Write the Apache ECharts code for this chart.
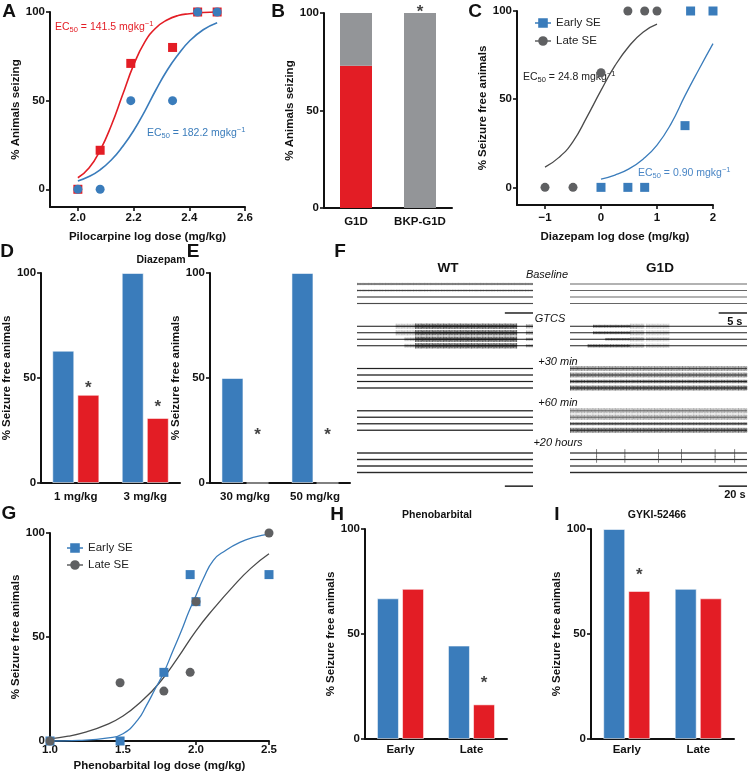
<!DOCTYPE html>
<html><head><meta charset="utf-8">
<script src="https://cdn.jsdelivr.net/npm/echarts@6/dist/echarts.min.js"></script>
<style>html,body{margin:0;padding:0;background:#fff}#c{width:750px;height:774px}</style>
</head><body><div id="c"></div>
<script>
// ---------------- DATA ----------------
// Panel A – pilocarpine dose response
const aDose = [2.0, 2.08, 2.19, 2.34, 2.43, 2.5];
const aG1D = [0, 22, 71, 80, 100, 100];
const aWT = [0, 0, 50, 50, 100, 100];
const aFitDose = [2.00, 2.04, 2.08, 2.12, 2.16, 2.20, 2.24, 2.28, 2.32, 2.36, 2.40, 2.45, 2.50];
const aFitG1D = [6.5, 12, 22, 36, 53, 70, 83, 91, 95.5, 98, 99, 99.7, 100];
const aFitWT = [4.7, 7.2, 11, 16.5, 24, 33, 44, 56, 67, 76, 83.5, 90, 94];
const aXTicks = [2.0, 2.2, 2.4, 2.6];
const pctTicks = [0, 50, 100];
// Panel B
const bCats = ['G1D', 'BKP-G1D'];
const bSeizing = [73, 0];
const bNotSeizing = [27, 100];
const bStars = ['-', 103];
// Panel C – diazepam dose response
const cEarlyDose = [0, 0.48, 0.78, 1.5, 1.6, 2.0];
const cEarly = [0, 0, 0, 35, 100, 100];
const cLateDose = [-1, -0.5, 0, 0.48, 0.78, 1.0];
const cLate = [0, 0, 65, 100, 100, 100];
const cFitLateDose = [-1, -0.75, -0.5, -0.25, 0, 0.25, 0.5, 0.75, 1.0];
const cFitLate = [11.5, 17, 26, 40, 55, 69, 80, 88, 92.5];
const cFitEarlyDose = [0, 0.25, 0.5, 0.75, 1.0, 1.25, 1.5, 1.75, 2.0];
const cFitEarly = [4.7, 7, 10.5, 16, 24, 36, 52, 67, 81.5];
const cXTicks = [-1, 0, 1, 2];
// Panel D – diazepam
const dCats = ['1 mg/kg', '3 mg/kg'];
const dBlue = [63, 100];
const dRed = [42, 31];
const dStars = [47.5, 38.5];
// Panel E
const eCats = ['30 mg/kg', '50 mg/kg'];
const eBlue = [50, 100];
const eRed = [0, 0];
const eStars = [25, 25];
// Panel F – EEG traces, [epoch, channel, start %, end %, amplitude, intensity]
const fEpochs = ['Baseline', 'GTCS', '+30 min', '+60 min', '+20 hours'];
const fWT = [
  [0,0,0,100,0.4,0.22],[0,1,0,100,0.4,0.22],[0,2,0,100,0.3,0.2],[0,3,0,100,0.3,0.2],
  [0,0,0,100,0,0.45],[0,1,0,100,0,0.45],[0,2,0,100,0,0.45],[0,3,0,100,0,0.45],
  [1,0,0,100,0,0.85],[1,1,0,100,0,0.85],[1,2,0,100,0,0.85],[1,3,0,100,0,0.85],
  [1,0,22,33,0.8,0.25],[1,0,33,91,0.85,0.75],[1,0,96,100,0.7,0.3],
  [1,1,22,33,0.8,0.25],[1,1,33,91,0.85,0.75],[1,1,96,100,0.7,0.3],
  [1,2,27,33,0.6,0.25],[1,2,33,91,0.85,0.75],[1,2,96,100,0.5,0.3],
  [1,3,27,33,0.6,0.25],[1,3,33,91,0.85,0.75],[1,3,96,100,0.5,0.3],
  [2,0,0,100,0.2,0.75],[2,1,0,100,0.2,0.75],[2,2,0,100,0.2,0.75],[2,3,0,100,0.2,0.75],
  [3,0,0,100,0.2,0.75],[3,1,0,100,0.2,0.75],[3,2,0,100,0.2,0.75],[3,3,0,100,0.2,0.75],
  [4,0,0,100,0.28,0.7],[4,1,0,100,0.28,0.7],[4,2,0,100,0.28,0.7],[4,3,0,100,0.28,0.7]
];
const fG1D = [
  [0,0,0,100,0,0.5],[0,1,0,100,0,0.5],[0,2,0,100,0,0.5],[0,3,0,100,0,0.5],
  [1,0,0,100,0,0.8],[1,1,0,100,0,0.8],[1,2,0,100,0,0.8],[1,3,0,100,0,0.8],
  [1,0,13,34,0.45,0.55],[1,0,34,42,0.8,0.25],[1,0,43,56,0.8,0.18],
  [1,1,13,34,0.45,0.55],[1,1,34,42,0.8,0.25],[1,1,43,56,0.8,0.18],
  [1,2,20,34,0.4,0.45],[1,2,34,42,0.7,0.25],[1,2,43,56,0.7,0.18],
  [1,3,10,34,0.5,0.6],[1,3,34,42,0.7,0.25],[1,3,43,56,0.7,0.18],
  [2,0,0,100,0.75,0.5],[2,1,0,100,0.75,0.55],[2,2,0,100,0.55,0.7],[2,3,0,100,0.75,0.75],
  [3,0,0,100,0.85,0.32],[3,1,0,100,0.85,0.36],[3,2,0,100,0.45,0.65],[3,3,0,100,0.75,0.7],
  [4,0,0,100,0.2,0.65],[4,1,0,100,0.2,0.65],[4,2,0,100,0.2,0.65],[4,3,0,100,0.28,0.7]
];
// spikes at +20 h in G1D: [epoch, channel, position %, amplitude]
const fG1DSpikes = [
  [4,0,15,1.2],[4,0,31,1.2],[4,0,50,1.2],[4,0,63,1.2],[4,0,82,1.2],[4,0,93,1.2],
  [4,1,15,1.0],[4,1,31,1.0],[4,1,50,1.0],[4,1,63,1.0],[4,1,82,1.0],[4,1,93,1.0]
];
// scale bars: [row, start %, end %, label]
const fWTScale = [[4.46, 84, 100, ''], [31.1, 84, 100, '']];
const fG1DScale = [[4.46, 84, 100, '5 s'], [31.1, 84, 100, '20 s']];
// Panel G – phenobarbital dose response
const gDose = [1.0, 1.48, 1.78, 1.96, 2.0, 2.5];
const gEarly = [0, 0, 33, 80, 67, 80];
const gLate = [0, 28, 24, 33, 67, 100];
const gFitEarlyDose = [1.0, 1.2, 1.4, 1.5, 1.6, 1.66, 1.72, 1.78, 1.84, 1.9, 1.95, 2.0, 2.05, 2.12, 2.2, 2.3, 2.4, 2.5];
const gFitEarly = [0, 0.3, 1.5, 3.5, 10, 17, 25, 33, 43, 53, 62, 70, 78, 87, 91.5, 95.5, 98, 99.5];
const gFitLateDose = [1.0, 1.125, 1.25, 1.375, 1.5, 1.625, 1.75, 1.875, 2.0, 2.125, 2.25, 2.375, 2.5];
const gFitLate = [1, 2.3, 4.4, 7.5, 12, 19, 28, 40, 53, 64, 74, 83, 90];
// Panel H – phenobarbital, Panel I – GYKI-52466
const hiCats = ['Early', 'Late'];
const hBlue = [67, 44.5];
const hRed = [71.5, 16.5];
const hStars = ['-', 29];
const iBlue = [100, 71.5];
const iRed = [70.5, 67];
const iStars = [80.5, '-'];

// ---------------- STYLE ----------------
const FONT = '"Liberation Sans", Arial, Helvetica, sans-serif';
const BLUE = '#3a7cbb', RED = '#e31d25', GRAYBAR = '#939598', DARK = '#5f6062', CURVEGRAY = '#4a4a4a', INK = '#111';
const ROWS_PER_EPOCH = 6.5;
const HATCH = [1, 0.55, 0.85, 0.35, 0.95, 0.65, 0.8, 0.45];
const zip = (xs, ys) => xs.map((x, i) => [x, ys[i]]);
const fmt1 = v => v.toFixed(1);
const fmtMinus = v => (v < 0 ? '\u2212' + Math.abs(v) : String(v));

function vAxis(gi, min, max, ticks, fmt, name, gap, margin) {
  return {
    type: 'value', gridIndex: gi, min: min, max: max,
    name: name || '', nameLocation: 'middle', nameGap: gap || 20,
    nameTextStyle: {color: INK, fontSize: 11.5, fontWeight: 'bold', fontFamily: FONT},
    axisLine: {show: true, onZero: false, lineStyle: {color: INK, width: 2}},
    axisTick: {show: true, length: 4, customValues: ticks, lineStyle: {color: INK, width: 1.6}},
    axisLabel: {show: true, customValues: ticks, formatter: fmt || (v => String(v)), color: INK,
      fontSize: 11.5, fontWeight: 'bold', fontFamily: FONT, margin: margin == null ? 5 : margin},
    splitLine: {show: false}
  };
}
function cAxis(gi, cats, margin) {
  return {
    type: 'category', gridIndex: gi, data: cats,
    axisLine: {show: true, onZero: false, lineStyle: {color: INK, width: 2}},
    axisTick: {show: false},
    axisLabel: {interval: 0, color: INK, fontSize: 11.5, fontWeight: 'bold', fontFamily: FONT, margin: margin},
    splitLine: {show: false}
  };
}
function hidden(gi, min, max, inverse) {
  return {type: 'value', gridIndex: gi, min: min, max: max, inverse: !!inverse, show: false,
    axisLine: {show: false}, axisTick: {show: false}, axisLabel: {show: false}, splitLine: {show: false}};
}
function pairBars(gi, blue, red, stars) {
  const bar = (d, c) => ({
    type: 'bar', xAxisIndex: gi, yAxisIndex: gi, data: d, barWidth: 22, barGap: '14%',
    itemStyle: {color: c, borderColor: 'rgba(255,255,255,0.55)', borderWidth: 1}, silent: true
  });
  return [bar(blue, BLUE), bar(red, RED), starSeries(gi, stars, 12.5)];
}
function starSeries(gi, stars, dx) {
  return {
    type: 'scatter', xAxisIndex: gi, yAxisIndex: gi, data: stars, symbolSize: 1, clip: false,
    itemStyle: {color: 'rgba(0,0,0,0)'}, silent: true,
    label: {show: true, position: 'inside', offset: [dx, 5], formatter: '*', color: INK,
      fontSize: 17, fontWeight: 'bold', fontFamily: FONT}
  };
}
function curve(gi, xs, ys, color, w) {
  return {type: 'line', xAxisIndex: gi, yAxisIndex: gi, data: zip(xs, ys), smooth: true, showSymbol: false,
    symbol: 'none', lineStyle: {color: color, width: w}, silent: true, clip: false, z: 2};
}
function points(gi, name, xs, ys, symbol, color, z) {
  return {type: 'scatter', name: name, xAxisIndex: gi, yAxisIndex: gi, data: zip(xs, ys), symbol: symbol,
    symbolSize: 9, itemStyle: {color: color, opacity: 1}, clip: false, silent: true, z: z || 3};
}
function segRender(src) {
  return function (params, api) {
    const s = src[params.dataIndex];
    const row = s[0] * ROWS_PER_EPOCH + s[1];
    const p0 = api.coord([s[2], row]), p1 = api.coord([s[3], row]);
    const unit = api.size([0, 1])[1];
    const line = {type: 'line', shape: {x1: p0[0], y1: p0[1], x2: p1[0], y2: p1[1]},
      style: {stroke: 'rgba(20,20,20,' + Math.min(1, s[5] + 0.15) + ')', lineWidth: 1}};
    if (s[4] === 0) return line;
    const h = Math.max(s[4] * unit, 1);
    const kids = [{type: 'rect', shape: {x: p0[0], y: p0[1] - h / 2, width: p1[0] - p0[0], height: h},
      style: {fill: 'rgba(25,25,25,' + (s[5] * 0.55) + ')'}}];
    if (h > 2) {
      let k = 0;
      for (let x = p0[0] + 0.5; x < p1[0]; x += 1.4, k++) {
        const hh = h * HATCH[k % HATCH.length] / 2;
        kids.push({type: 'line', shape: {x1: x, y1: p0[1] - hh, x2: x, y2: p0[1] + hh},
          style: {stroke: 'rgba(15,15,15,' + s[5] + ')', lineWidth: 0.6}});
      }
    }
    kids.push(line);
    return {type: 'group', children: kids};
  };
}
function spikeRender(src) {
  return function (params, api) {
    const s = src[params.dataIndex];
    const row = s[0] * ROWS_PER_EPOCH + s[1];
    const p = api.coord([s[2], row]);
    const h = s[3] * api.size([0, 1])[1];
    return {type: 'line', shape: {x1: p[0], y1: p[1] - h / 2, x2: p[0], y2: p[1] + h / 2},
      style: {stroke: 'rgba(60,60,60,0.8)', lineWidth: 0.8}};
  };
}
function scaleRender(src) {
  return function (params, api) {
    const s = src[params.dataIndex];
    const p0 = api.coord([s[1], s[0]]), p1 = api.coord([s[2], s[0]]);
    const kids = [{type: 'line', shape: {x1: p0[0], y1: p0[1], x2: p1[0], y2: p1[1]}, style: {stroke: '#222', lineWidth: 1.5}}];
    if (s[3]) kids.push({type: 'text', style: {text: s[3], x: (p0[0] + p1[0]) / 2 + 2, y: p0[1] + 9, align: 'center',
      verticalAlign: 'middle', fontSize: 11, fontWeight: 'bold', fontFamily: FONT, fill: INK}});
    return {type: 'group', children: kids};
  };
}
function custom(gi, src, render) {
  return {type: 'custom', xAxisIndex: gi, yAxisIndex: gi, data: src.map(s => [s[0], s[1]]),
    renderItem: render(src), silent: true, clip: false};
}

const grids = [
  {left: 50, top: 12, width: 195, height: 195},     // A
  {left: 324, top: 13, width: 128, height: 195},    // B
  {left: 517, top: 11, width: 196, height: 194},    // C
  {left: 35, top: 273, width: 145, height: 210},    // D
  {left: 210, top: 273, width: 140, height: 210},   // E
  {left: 357, top: 277.5, width: 176, height: 214.5}, // F WT
  {left: 570, top: 277.5, width: 177, height: 214.5}, // F G1D
  {left: 50, top: 533, width: 219, height: 208},    // G
  {left: 365, top: 529, width: 142, height: 210},   // H
  {left: 591, top: 529, width: 143, height: 210}    // I
];

const xAxes = [
  vAxis(0, 1.9, 2.6, aXTicks, fmt1, 'Pilocarpine log dose (mg/kg)', 24, 5),
  cAxis(1, bCats, 8),
  vAxis(2, -1.5, 2, cXTicks, fmtMinus, 'Diazepam log dose (mg/kg)', 26, 7),
  cAxis(3, dCats, 8),
  cAxis(4, eCats, 8),
  hidden(5, 0, 100),
  hidden(6, 0, 100),
  vAxis(7, 1.0, 2.5, [1.0, 1.5, 2.0, 2.5], fmt1, 'Phenobarbital log dose (mg/kg)', 19, 3),
  cAxis(8, hiCats, 5),
  cAxis(9, hiCats, 5)
];
const yAxes = [
  vAxis(0, -10, 100, pctTicks, null, '% Animals seizing', 21),
  vAxis(1, 0, 100, pctTicks, null, '% Animals seizing', 15),
  vAxis(2, -10, 100, pctTicks, null, '% Seizure free animals', 18),
  vAxis(3, 0, 100, pctTicks, null, '% Seizure free animals', 21),
  vAxis(4, 0, 100, pctTicks, null, '% Seizure free animals', 22),
  hidden(5, -1, 32, true),
  hidden(6, -1, 32, true),
  vAxis(7, 0, 100, pctTicks, null, '% Seizure free animals', 21),
  vAxis(8, 0, 100, pctTicks, null, '% Seizure free animals', 26),
  vAxis(9, 0, 100, pctTicks, null, '% Seizure free animals', 20)
];

const series = [
  // A
  curve(0, aFitDose, aFitG1D, RED, 1.6),
  curve(0, aFitDose, aFitWT, BLUE, 1.6),
  points(0, 'G1D', aDose, aG1D, 'rect', RED, 3),
  points(0, 'WT', aDose, aWT, 'circle', BLUE, 4),
  // B
  {type: 'bar', xAxisIndex: 1, yAxisIndex: 1, stack: 'b', data: bSeizing, barWidth: 32, itemStyle: {color: RED}, silent: true},
  {type: 'bar', xAxisIndex: 1, yAxisIndex: 1, stack: 'b', data: bNotSeizing, barWidth: 32, itemStyle: {color: GRAYBAR}, silent: true},
  starSeries(1, bStars, 0),
  // C
  curve(2, cFitLateDose, cFitLate, CURVEGRAY, 1.3),
  curve(2, cFitEarlyDose, cFitEarly, BLUE, 1.3),
  points(2, 'Early SE', cEarlyDose, cEarly, 'rect', BLUE, 3),
  points(2, 'Late SE', cLateDose, cLate, 'circle', DARK, 4),
  // D, E
  ...pairBars(3, dBlue, dRed, dStars),
  ...pairBars(4, eBlue, eRed, eStars),
  // F
  custom(5, fWT, segRender),
  custom(6, fG1D, segRender),
  custom(6, fG1DSpikes, spikeRender),
  custom(5, fWTScale, scaleRender),
  custom(6, fG1DScale, scaleRender),
  // G
  curve(7, gFitLateDose, gFitLate, CURVEGRAY, 1.3),
  curve(7, gFitEarlyDose, gFitEarly, BLUE, 1.3),
  points(7, 'Early SE', gDose, gEarly, 'rect', BLUE, 3),
  points(7, 'Late SE', gDose, gLate, 'circle', DARK, 4),
  // H, I
  ...pairBars(8, hBlue, hRed, hStars),
  ...pairBars(9, iBlue, iRed, iStars)
];

const SQ_ICON = 'path://M0,4.3H15V5.7H0Z M3,0.5H12V9.5H3Z';
const CI_ICON = 'path://M0,4.3H15V5.7H0Z M7.5,0.5A4.5,4.5 0 1 1 7.49,0.5Z';
function legend(left, top, gap) {
  return {left: left, top: top, orient: 'vertical', itemWidth: 16, itemHeight: 10, itemGap: gap,
    selectedMode: false, textStyle: {color: '#222', fontSize: 11.5, fontFamily: FONT},
    data: [{name: 'Early SE', icon: SQ_ICON}, {name: 'Late SE', icon: CI_ICON}]};
}

function txt(x, y, s, size, opts) {
  return {type: 'text', x: x, y: y, silent: true, style: Object.assign({text: s, fontSize: size,
    fontFamily: FONT, fontWeight: 'bold', fill: INK, align: 'center', verticalAlign: 'middle'}, opts || {})};
}
function ec50(x, y, value, color) {
  return {type: 'text', x: x, y: y, silent: true, style: {
    text: '{n|EC}{s|50}{n| = ' + value + ' mgkg}{p|\u22121}', align: 'left', verticalAlign: 'middle',
    rich: {
      n: {fontSize: 10.5, fontFamily: FONT, fill: color, lineHeight: 14},
      s: {fontSize: 7.5, fontFamily: FONT, fill: color, lineHeight: 8, verticalAlign: 'bottom'},
      p: {fontSize: 7.5, fontFamily: FONT, fill: color, lineHeight: 8, verticalAlign: 'top'}
    }}};
}
const italic = {fontWeight: 'normal', fontStyle: 'italic'};
const graphics = [
  txt(9, 12, 'A', 19), txt(278, 12, 'B', 19), txt(475, 12, 'C', 19),
  txt(7, 252, 'D', 19), txt(193, 252, 'E', 19), txt(340, 252, 'F', 19),
  txt(9, 514, 'G', 19), txt(337, 515, 'H', 19), txt(557, 515, 'I', 19),
  txt(161, 260, 'Diazepam', 10.5), txt(437, 515, 'Phenobarbital', 10.5), txt(657, 515, 'GYKI-52466', 10.5),
  txt(448, 268, 'WT', 13.5), txt(660, 268, 'G1D', 13.5),
  txt(547, 275, fEpochs[0], 11, italic),
  txt(550, 319, fEpochs[1], 11, italic),
  txt(558, 362, fEpochs[2], 11, italic),
  txt(558, 403, fEpochs[3], 11, italic),
  txt(558, 443, fEpochs[4], 11, italic),
  ec50(55, 27, '141.5', RED),
  ec50(147, 133, '182.2', BLUE),
  ec50(523, 77, '24.8', '#222'),
  ec50(638, 173, '0.90', '#4a86c5')
];

const chart = echarts.init(document.getElementById('c'), null, {renderer: 'canvas'});
chart.setOption({
  animation: false,
  backgroundColor: '#fff',
  grid: grids,
  xAxis: xAxes,
  yAxis: yAxes,
  legend: [legend(530, 12, 6), legend(62, 537, 5)],
  series: series,
  graphic: graphics
});
</script></body></html>
